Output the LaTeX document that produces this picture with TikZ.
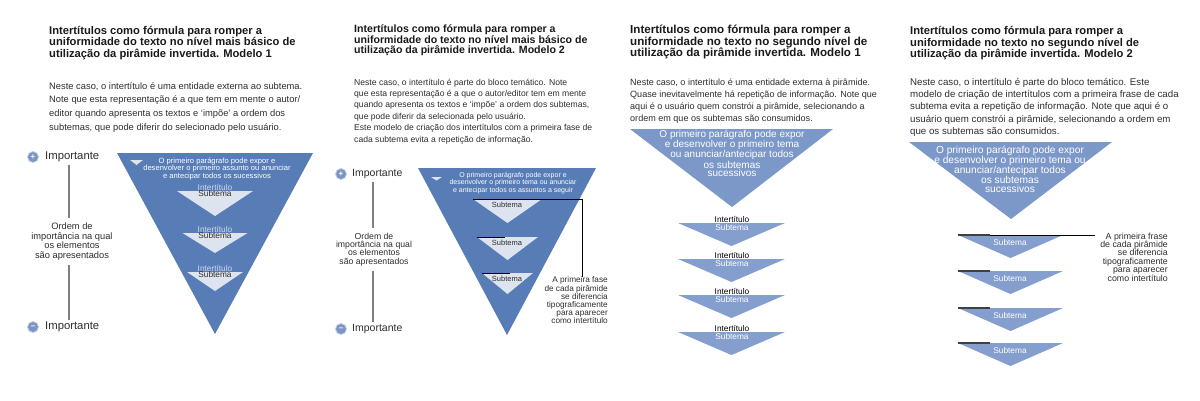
\documentclass[tikz,border=0pt]{standalone}
\usepackage{fontspec}
\setmainfont{Liberation Sans}
\usetikzlibrary{positioning}
\definecolor{azulescuro}{RGB}{88,125,182}
\definecolor{azulclaro}{RGB}{124,152,200}
\definecolor{azulsub}{RGB}{132,158,206}
\definecolor{azulsinal}{RGB}{122,148,196}
\definecolor{palido}{RGB}{221,228,240}
\definecolor{azulpalido}{RGB}{205,215,234}
\definecolor{texto}{RGB}{45,45,45}
\definecolor{eixocor}{RGB}{128,128,128}
\tikzset{titulo/.style={anchor=north west, inner sep=0pt, align=left, text=black!90, font=\bfseries\fontsize{11.2}{11.5}\selectfont},
  corpo/.style={anchor=north west, inner sep=0pt, align=left, text=texto, font=\fontsize{9.3}{#1}\selectfont},
  sinal/.style={circle, fill=azulsinal, draw=azulsinal!45, line width=0.8pt, text=white, inner sep=0pt, minimum size=11pt, font=\bfseries\fontsize{8}{8}\selectfont},
  importante/.style={anchor=west, inner sep=0pt, text=texto, font=\fontsize{#1}{#1}\selectfont},
  ordem/.style={align=center, inner sep=0pt, text=texto},
  branco/.style={align=center, inner sep=0pt, text=white},
  intert/.style={inner sep=0pt, font=\fontsize{8.3}{8.3}\selectfont},
  nota/.style={anchor=east, align=right, inner sep=0pt, text=texto},
  eixo/.style={draw=eixocor, line width=1.3pt},
  fio/.style={draw=black, line width=0.8pt},
  marca/.style={draw=black!75, line width=1.4pt}}
\begin{document}
\begin{tikzpicture}[x=1pt,y=-1pt]
\useasboundingbox (0,0) rectangle (1200,400);

% Modelo 1 - nivel basico
\node (tit1) at (49,26) [titulo] {Intertítulos como fórmula para romper a\\uniformidade do texto no nível mais básico de\\utilização da pirâmide invertida. Modelo 1};
\node (corpo1) at (49,82) [corpo=13.7, font=\fontsize{9.35}{13.7}\selectfont] {Neste caso, o intertítulo é uma entidade externa ao subtema.\\Note que esta representação é a que tem em mente o autor/\\editor quando apresenta os textos e ‘impõe’ a ordem dos\\subtemas, que pode diferir do selecionado pelo usuário.};
\node (mais1) at (33,157) [sinal] {+};
\node (imp1) at (45,157) [importante=11.3] {Importante};
\node (menos1) at (33,327) [sinal] {–};
\node (imp1b) at (45,327) [importante=11.3] {Importante};
\node (ordem1) at (72,241.5) [ordem, font=\fontsize{9.3}{9.5}\selectfont] {Ordem de\\importância na qual\\os elementos\\são apresentados};
\coordinate (e1) at (69,0);
\draw[eixo] ([yshift=-3pt]imp1.south -| e1) -- ([yshift=5pt]ordem1.north -| e1);
\draw[eixo] ([yshift=-4.5pt]ordem1.south -| e1) -- ([yshift=2pt]imp1b.north -| e1);
\fill[azulescuro] (117,153) -- (313,153) -- (215,334) -- cycle;
\fill[palido] (130,160) -- (143,160) -- (136.5,165) -- cycle;
\node (par1) at (217,168.5) [branco, font=\fontsize{7.6}{7.5}\selectfont] {O primeiro parágrafo pode expor e\\desenvolver o primeiro assunto ou anunciar\\e antecipar todos os sucessivos};
\foreach \t/\w/\h [count=\i] in {191/38/25,233/32.5/20,272/28/19}{
  \fill[palido] (215-\w,\t) -- (215+\w,\t) -- (215,\t+\h) -- cycle;
  \node (int1\i) at (215,\t-4) [intert, text=azulpalido] {Intertítulo};
  \node (sub1\i) at (215,\t+3) [intert, text=texto] {Subtema};
}

% Modelo 2 - nivel basico
\node (tit2) at (354,24.5) [titulo, font=\bfseries\fontsize{10.6}{10.6}\selectfont] {Intertítulos como fórmula para romper a\\uniformidade do texto no nível mais básico de\\utilização da pirâmide invertida. Modelo 2};
\node (corpo2) at (354,78.5) [corpo=11.4, font=\fontsize{8.6}{11.4}\selectfont] {Neste caso, o intertítulo é parte do bloco temático. Note\\que esta representação é a que o autor/editor tem em mente\\quando apresenta os textos e ‘impõe’ a ordem dos subtemas,\\que pode diferir da selecionada pelo usuário.\\Este modelo de criação dos intertítulos com a primeira fase de\\cada subtema evita a repetição de informação.};
\node (mais2) at (341,174) [sinal] {+};
\node (imp2) at (352,174) [importante=10.5] {Importante};
\node (menos2) at (341,329) [sinal] {–};
\node (imp2b) at (352,329) [importante=10.5] {Importante};
\node (ordem2) at (374,249.5) [ordem, font=\fontsize{8.7}{8.3}\selectfont] {Ordem de\\importância na qual\\os elementos\\são apresentados};
\coordinate (e2) at (373,0);
\draw[eixo] ([yshift=-3pt]imp2.south -| e2) -- ([yshift=5pt]ordem2.north -| e2);
\draw[eixo] ([yshift=-4.5pt]ordem2.south -| e2) -- ([yshift=2pt]imp2b.north -| e2);
\fill[azulescuro] (418,168) -- (596,168) -- (507,335) -- cycle;
\fill[palido] (431,177) -- (442,177) -- (436.5,180.5) -- cycle;
\node (par2) at (513,183) [branco, font=\fontsize{7}{7.5}\selectfont] {O primeiro parágrafo pode expor e\\desenvolver o primeiro tema ou anunciar\\e antecipar todos os assuntos a seguir};
\foreach \t/\w/\h [count=\i] in {199/34.5/24,237/30.5/23,273/25.5/21}{
  \fill[palido] (507.5-\w,\t) -- (507.5+\w,\t) -- (507.5,\t+\h) -- cycle;
  \coordinate (topo2\i) at (507.5-\w,\t);
  \node (sub2\i) at (507,\t+6) [intert, text=texto, font=\fontsize{7.5}{7.5}\selectfont] {Subtema};
}
\node (nota2) at (608,300.5) [nota, font=\fontsize{8.25}{8.2}\selectfont] {A primeira fase\\de cada pirâmide\\se diferencia\\tipograficamente\\para aparecer\\como intertítulo};
\coordinate (f2) at (582,199);
\draw[fio] (topo21) -- (f2) -- (f2 |- nota2.north);
\draw[fio] (topo22) -- ++(28,0);
\draw[fio] (topo23) -- ++(28,0);

% Modelo 1 - segundo nivel
\node (tit3) at (630,25) [titulo, font=\bfseries\fontsize{11.6}{11.5}\selectfont] {Intertítulos como fórmula para romper a\\uniformidade no texto no segundo nível de\\utilização da pirâmide invertida. Modelo 1};
\node (corpo3) at (630,79) [corpo=12, font=\fontsize{9.05}{12}\selectfont] {Neste caso, o intertítulo é uma entidade externa à pirâmide.\\Quase inevitavelmente há repetição de informação. Note que\\aqui é o usuário quem constrói a pirâmide, selecionando a\\ordem em que os subtemas são consumidos.};
\fill[azulclaro] (630,129) -- (833,129) -- (732,207) -- cycle;
\node (par3) at (732,153) [branco, font=\fontsize{10}{8}\selectfont] {O primeiro parágrafo pode expor\\e desenvolver o primeiro tema\\ou anunciar/antecipar todos\\os subtemas\\sucessivos};
\foreach \t [count=\i] in {223,259,295,332}{
  \fill[azulsub] (678,\t) -- (785,\t) -- (731.5,\t+23) -- cycle;
  \node (int3\i) at (732,\t-3.7) [intert, text=black] {Intertítulo};
  \node (sub3\i) at (732,\t+4.3) [intert, text=white] {Subtema};
}

% Modelo 2 - segundo nivel
\node (tit4) at (910,26.5) [titulo] {Intertítulos como fórmula para romper a\\uniformidade no texto no segundo nível de\\utilização da pirâmide invertida. Modelo 2};
\node (corpo4) at (910,78) [corpo=12.25, font=\fontsize{9.7}{12.25}\selectfont] {Neste caso, o intertítulo é parte do bloco temático. Este\\modelo de criação de intertítulos com a primeira frase de cada\\subtema evita a repetição de informação. Note que aqui é o\\usuário quem constrói a pirâmide, selecionando a ordem em\\que os subtemas são consumidos.};
\fill[azulclaro] (909,142) -- (1112,142) -- (1011,219) -- cycle;
\node (par4) at (1010,169.5) [branco, font=\fontsize{10.2}{9.8}\selectfont] {O primeiro parágrafo pode expor\\e desenvolver o primeiro tema ou\\anunciar/antecipar todos\\os subtemas\\sucessivos};
\foreach \t [count=\i] in {235,271,308,343}{
  \fill[azulsub] (958,\t) -- (1063,\t) -- (1010.5,\t+23) -- cycle;
  \coordinate (topo4\i) at (958,\t);
  \node (sub4\i) at (1010,\t+7.7) [intert, text=white] {Subtema};
}
\node (nota4) at (1168,257) [nota, font=\fontsize{8.8}{8.4}\selectfont] {A primeira frase\\de cada pirâmide\\se diferencia\\tipograficamente\\para aparecer\\como intertítulo};
\draw[fio] (topo41) -- ([xshift=-5pt]nota4.west |- topo41);
\foreach \i in {1,...,4}
  \draw[marca] (topo4\i) -- ++(32,0);
\end{tikzpicture}
\end{document}
